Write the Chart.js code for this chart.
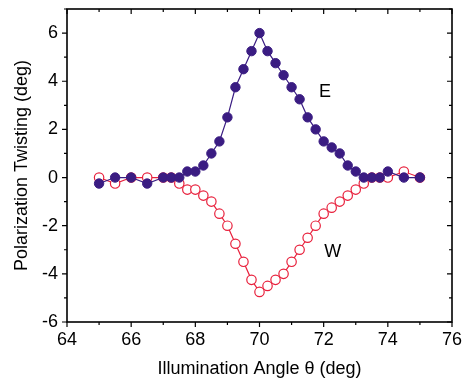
<!DOCTYPE html>
<html>
<head>
<meta charset="utf-8">
<script src="https://cdn.jsdelivr.net/npm/chart.js@4.4.0/dist/chart.umd.min.js"></script>
<style>
  html, body { margin:0; padding:0; background:#fff; }
  #wrap { width:466px; height:384px; }
</style>
</head>
<body>
<div id="wrap"><canvas id="chartP" width="466" height="384"></canvas></div>
<script>
// illumination angle (deg)
var angleE = [65,65.5,66,66.5,67,67.25,67.5,67.75,68,68.25,68.5,68.75,69,69.25,69.5,69.75,70,
              70.25,70.5,70.75,71,71.25,71.5,71.75,72,72.25,72.5,72.75,73,73.25,73.5,73.75,74,74.5,75];
var twistE = [-0.25,0,0,-0.25,0,0,0,0.25,0.25,0.5,1,1.5,2.5,3.75,4.5,5.25,6,
              5.25,4.75,4.25,3.75,3.25,2.5,2,1.5,1.25,1,0.5,0.25,0,0,0,0.25,0,0];
var angleW = angleE;
var twistW = [0,-0.25,0,0,0,0,-0.25,-0.5,-0.5,-0.75,-1,-1.5,-2,-2.75,-3.5,-4.25,-4.75,
              -4.5,-4.25,-4,-3.5,-3,-2.5,-2,-1.5,-1.25,-1,-0.75,-0.5,-0.25,0,0,0,0.25,0];
// series labels drawn inside the plot
var seriesNames = ["E","W"];
var nameX = [72.04, 72.28];
var nameY = [3.57, -3.09];

var xMin = 64, xMax = 76, yMin = -6, yMax = 7;
var fontFam = '"Liberation Sans", Arial, sans-serif';

function pts(xs, ys) {
    var out = [];
    for (var i = 0; i < xs.length; i++) out.push({x: xs[i], y: ys[i]});
    return out;
}

var frame = {
    id: 'frame',
    afterDraw: function(chart) {
        var c = chart.ctx, a = chart.chartArea;
        var sx = chart.scales.x, sy = chart.scales.y;
        c.save();
        c.strokeStyle = '#000';
        c.lineWidth = 1.6;
        c.strokeRect(a.left, a.top, a.right - a.left, a.bottom - a.top);
        c.lineWidth = 1.2;
        c.beginPath();
        for (var v = xMin; v <= xMax; v++) {
            var px = sx.getPixelForValue(v);
            var len = (v % 2 == 0) ? 5 : 3;
            c.moveTo(px, a.bottom); c.lineTo(px, a.bottom + len);   // outward
            c.moveTo(px, a.top); c.lineTo(px, a.top + len);         // inward
        }
        for (var w = yMin; w <= yMax; w++) {
            var py = sy.getPixelForValue(w);
            var l2 = (w % 2 == 0) ? 5 : 3;
            c.moveTo(a.left, py); c.lineTo(a.left - l2, py);
            c.moveTo(a.right, py); c.lineTo(a.right - l2, py);
        }
        c.stroke();
        c.fillStyle = '#000';
        c.font = '18px ' + fontFam;
        c.textAlign = 'center';
        c.textBaseline = 'middle';
        for (var k = 0; k < seriesNames.length; k++) {
            c.fillText(seriesNames[k], sx.getPixelForValue(nameX[k]), sy.getPixelForValue(nameY[k]));
        }
        c.restore();
    }
};

var ctx = document.getElementById("chartP");
var chartP = new Chart(ctx, {
    type: "line",
    data: {
        datasets: [{
            label: "E",
            data: pts(angleE, twistE),
            borderColor: '#3a1c82',
            backgroundColor: '#3a1c82',
            pointBackgroundColor: '#3a1c82',
            pointBorderColor: '#3a1c82',
            borderWidth: 1.2,
            pointRadius: 4.7,
            pointBorderWidth: 1,
            tension: 0
        },{
            label: "W",
            data: pts(angleW, twistW),
            borderColor: '#e8203c',
            backgroundColor: '#fff',
            pointBackgroundColor: '#fff',
            pointBorderColor: '#e8203c',
            borderWidth: 1.2,
            pointRadius: 4.7,
            pointBorderWidth: 1.2,
            tension: 0
        }]
    },
    options: {
        responsive: false,
        animation: false,
        layout: { padding: { left: 0, right: 14, top: 9, bottom: 0 } },
        plugins: { legend: { display: false }, tooltip: { enabled: false } },
        scales: {
            x: {
                type: 'linear', min: xMin, max: xMax,
                grid: { display: false, drawTicks: false },
                border: { display: false },
                ticks: { stepSize: 2, color: '#000', padding: 7,
                         font: { family: fontFam, size: 18 } },
                title: { display: true, text: 'Illumination Angle θ (deg)', color: '#000',
                         font: { family: fontFam, size: 18 },
                         padding: { top: 0, bottom: 4 } },
                afterFit: function(s) { s.height = 62; s.paddingLeft = 0; s.paddingRight = 0; }
            },
            y: {
                type: 'linear', min: yMin, max: yMax,
                grid: { display: false, drawTicks: false },
                border: { display: false },
                ticks: { stepSize: 2, color: '#000', padding: 9,
                         font: { family: fontFam, size: 18 },
                         callback: function(v) { return (v % 2 == 0) ? v : ''; } },
                title: { display: true, text: 'Polarization Twisting (deg)', color: '#000',
                         font: { family: fontFam, size: 18 },
                         padding: { top: 11, bottom: 0 } },
                afterFit: function(s) { s.width = 67; s.paddingTop = 0; s.paddingBottom = 0; }
            }
        }
    },
    plugins: [frame]
});
</script>
</body>
</html>
